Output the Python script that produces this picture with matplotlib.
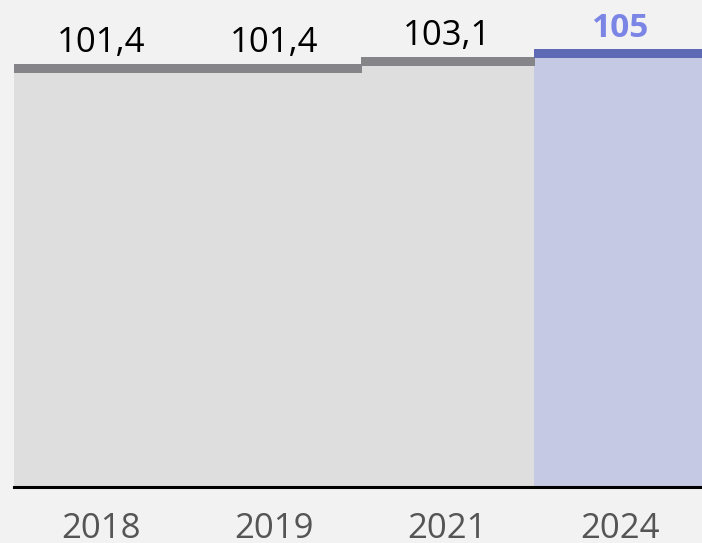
import matplotlib.pyplot as plt

years = ["2018", "2019", "2021", "2024"]
values = [101.4, 101.4, 103.1, 105]
labels = ["101,4", "101,4", "103,1", "105"]

bg = "#f2f2f2"
fills = ["#dedede", "#dedede", "#dedede", "#c5c9e4"]
tops = ["#858589", "#858589", "#858589", "#5f6ab4"]

plt.rcParams["font.family"] = ["Open Sans", "DejaVu Sans"]

fig = plt.figure(figsize=(7.02, 5.43), dpi=100, facecolor=bg)
ax = fig.add_axes([14 / 702, 56 / 543, 693 / 702, 487 / 543])
ax.set_facecolor(bg)

x = range(len(years))
ax.bar(x, values, width=1.0, color=fills, linewidth=0, zorder=1)

# thick top edge on each bar
for i, v in enumerate(values):
    ax.hlines(v, i - 0.5, i + 0.5, color=tops[i], linewidth=5.2,
              antialiased=False, zorder=2)

# value labels
for i, v in enumerate(values):
    last = i == len(values) - 1
    ax.annotate(labels[i], (i, v), xytext=(0, 6), textcoords="offset points",
                ha="center", va="bottom", fontsize=24 if last else 25,
                fontweight="bold" if last else "normal",
                color="#7b85e6" if last else "black", zorder=3)

ax.set_xlim(-0.5, 3.5)
ax.set_ylim(0, 117.9)
ax.set_xticks(list(x))
ax.set_xticklabels(years, fontsize=25, color="#555555")
ax.tick_params(axis="x", length=0, pad=18)
ax.set_yticks([])

for side in ["top", "right", "left"]:
    ax.spines[side].set_visible(False)
ax.spines["bottom"].set_linewidth(2.2)
ax.spines["bottom"].set_color("black")

fig.savefig("out.png", dpi=100, facecolor=bg)
